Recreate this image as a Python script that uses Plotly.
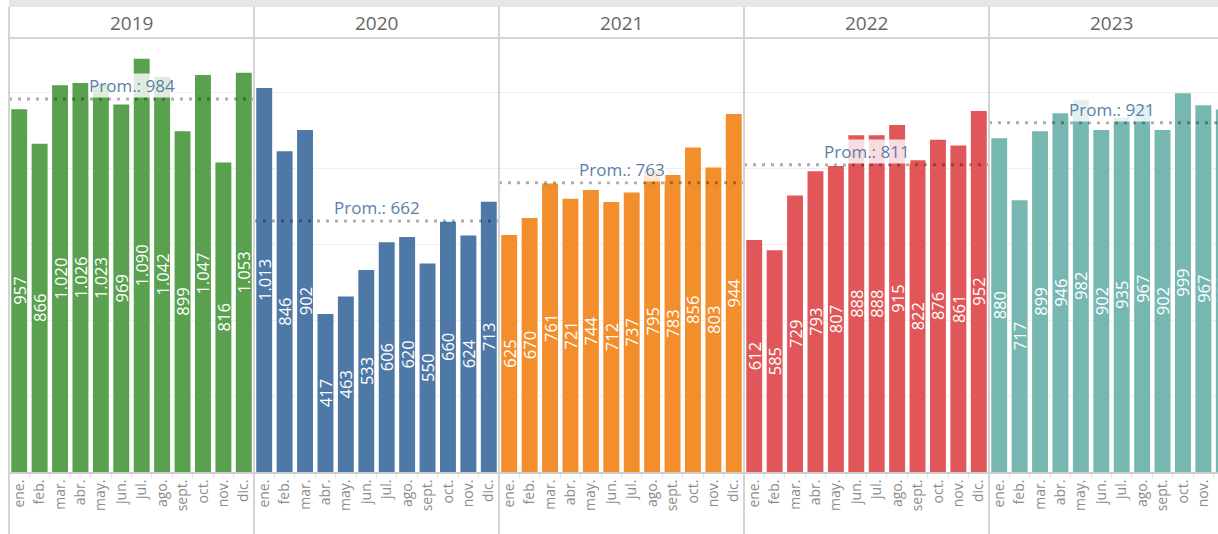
import plotly.graph_objects as go
from plotly.subplots import make_subplots

years = ["2019", "2020", "2021", "2022", "2023"]
months = ["ene.", "feb.", "mar.", "abr.", "may.", "jun.",
          "jul.", "ago.", "sept.", "oct.", "nov.", "dic."]

values_2019 = [957, 866, 1020, 1026, 1023, 969, 1090, 1042, 899, 1047, 816, 1053]
values_2020 = [1013, 846, 902, 417, 463, 533, 606, 620, 550, 660, 624, 713]
values_2021 = [625, 670, 761, 721, 744, 712, 737, 795, 783, 856, 803, 944]
values_2022 = [612, 585, 729, 793, 807, 888, 888, 915, 822, 876, 861, 952]
values_2023 = [880, 717, 899, 946, 982, 902, 935, 967, 902, 999, 967, 956]

series = [values_2019, values_2020, values_2021, values_2022, values_2023]
colors = ["#59a14f", "#4e79a7", "#f28e2b", "#e15759", "#76b7b2"]

W, H = 1218, 534
FONT = "Open Sans"
panel_w = 245
left0 = 9
top_plot = 39
base_y = 472


def fmt(v):
    return f"{v:,}".replace(",", ".")


def py(p):
    return 1 - p / H


fig = make_subplots(rows=1, cols=5, shared_yaxes=True, horizontal_spacing=0)

for i, (yr, vals) in enumerate(zip(years, series)):
    fig.add_trace(
        go.Bar(
            x=months,
            y=vals,
            marker_color=colors[i],
            marker_line_width=0,
            text=[fmt(v) for v in vals],
            textposition="inside",
            textangle=-90,
            insidetextanchor="middle",
            textfont=dict(color="white", size=16.5, family=FONT),
            name=yr,
            showlegend=False,
        ),
        row=1,
        col=i + 1,
    )

shapes = []
annotations = []
for i, (yr, vals) in enumerate(zip(years, series)):
    left = left0 + panel_w * i
    right = min(left + panel_w, W)
    n = "" if i == 0 else str(i + 1)
    x_hi = -0.5 + (right - left) / panel_w * 12
    fig.update_layout(**{
        f"xaxis{n}": dict(
            domain=[left / W, right / W],
            range=[-0.5, x_hi],
            type="category",
            tickangle=-90,
            tickfont=dict(size=14, color="#8c8c8c", family=FONT),
            ticks="outside",
            tickson="boundaries",
            ticklen=5,
            tickcolor="#e6e6e6",
            showgrid=False,
            showline=True,
            linecolor="#cfcfcf",
            linewidth=2,
            fixedrange=True,
        ),
        f"yaxis{n}": dict(
            domain=[py(base_y), py(top_plot)],
            range=[0, 1142],
            tickvals=[200, 400, 600, 800, 1000],
            showticklabels=False,
            showgrid=True,
            gridcolor="#efefef",
            gridwidth=1,
            zeroline=False,
        ),
    })

    avg = sum(vals) / len(vals)
    shapes.append(dict(
        type="line", xref=f"x{n} domain", yref=f"y{n}",
        x0=0, x1=1, y0=avg, y1=avg,
        line=dict(color="rgba(0,0,0,0.32)", width=3, dash="3px,6px"),
        layer="above",
    ))
    annotations.append(dict(
        x=5.5, y=avg, xref=f"x{n}", yref=f"y{n}",
        text=f"Prom.: {fmt(round(avg))}",
        showarrow=False, yanchor="bottom", yshift=1,
        font=dict(size=17, color="#5b7fab", family=FONT),
        bgcolor="rgba(255,255,255,0.8)", borderpad=0,
    ))
    annotations.append(dict(
        x=(left + panel_w / 2) / W, y=py(23), xref="paper", yref="paper",
        xanchor="center", yanchor="middle",
        text=yr, showarrow=False,
        font=dict(size=19, color="#666666", family=FONT),
    ))

# top band, header line, panel dividers
shapes.append(dict(type="rect", xref="paper", yref="paper",
                   x0=left0 / W, x1=1, y0=py(7), y1=1,
                   fillcolor="#e6e6e6", line_width=0, layer="below"))
shapes.append(dict(type="line", xref="paper", yref="paper",
                   x0=left0 / W, x1=1, y0=py(38), y1=py(38),
                   line=dict(color="#d4d4d4", width=2), layer="above"))
for i in range(5):
    xpos = (left0 + panel_w * i) / W
    shapes.append(dict(type="line", xref="paper", yref="paper",
                       x0=xpos, x1=xpos, y0=0, y1=py(7),
                       line=dict(color="#d4d4d4", width=2)))

fig.update_layout(
    width=W,
    height=H,
    margin=dict(l=0, r=0, t=0, b=0),
    plot_bgcolor="white",
    paper_bgcolor="white",
    bargap=0.22,
    uniformtext=dict(minsize=16.5, mode="show"),
    shapes=shapes,
    annotations=annotations,
    font=dict(family=FONT),
)

fig.write_html(
    "out.html",
    config={"displayModeBar": False},
    post_script="document.body.style.margin='0';document.body.style.overflow='hidden';",
)
